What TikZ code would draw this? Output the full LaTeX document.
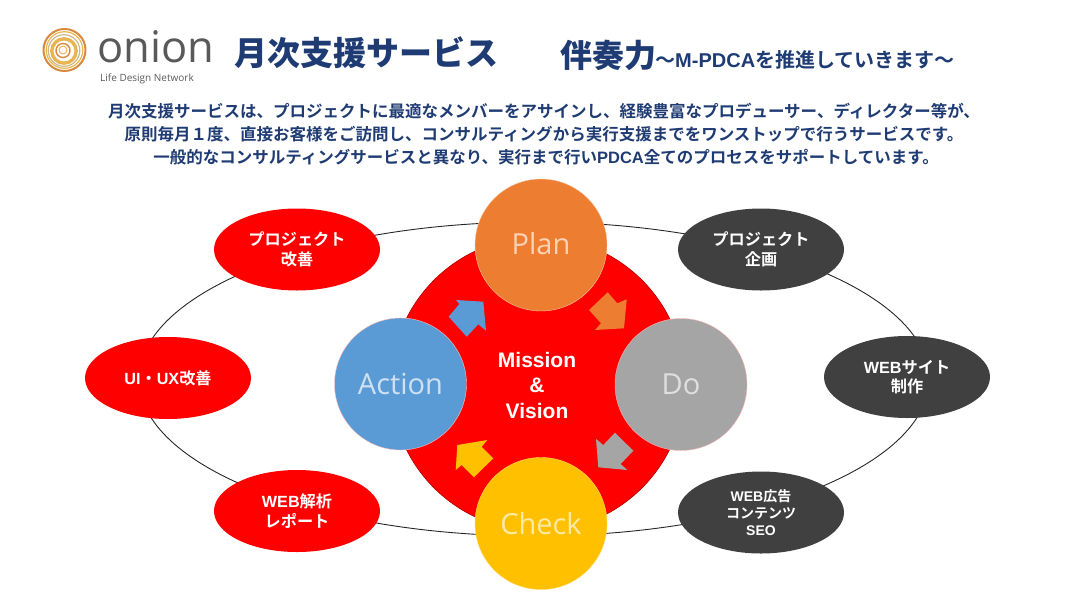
\documentclass[tikz,border=0pt]{standalone}
\usetikzlibrary{shapes.geometric}
\usepackage{fontspec}
\setmainfont{Liberation Sans}
\newfontfamily\cjk{Noto Sans CJK JP}[BoldFont={Noto Sans CJK JP Bold}]
\newfontfamily\cjkblack{Noto Sans CJK JP Black}
\newfontfamily\latinb{Liberation Sans}
\newfontfamily\light{Open Sans}
\newcommand{\lat}[1]{{\latinb\bfseries #1}}
\definecolor{navy}{HTML}{1F3B73}
\definecolor{redfill}{HTML}{FE0000}
\definecolor{darkfill}{HTML}{404040}
\definecolor{planc}{HTML}{ED7D31}
\definecolor{doc}{HTML}{A5A5A5}
\definecolor{checkc}{HTML}{FFC000}
\definecolor{actionc}{HTML}{5B9BD5}
\definecolor{logoa}{HTML}{D88A3E}
\definecolor{logob}{HTML}{E9B552}
\definecolor{logoc}{HTML}{C9B98A}
\tikzset{
  x=1pt,y=-1pt,
  pill/.style={ellipse,minimum width=166pt,minimum height=82pt,inner sep=0pt,text=white,align=center,font=\cjk\bfseries\fontsize{16.2}{19.5}\selectfont},
  redpill/.style={pill,fill=redfill},
  darkpill/.style={pill,fill=darkfill},
  pdca/.style={circle,minimum size=132pt,inner sep=0pt,font=\light\fontsize{29}{32}\selectfont},
  ringline/.style={draw=black!85,line width=0.9pt}
}
\begin{document}
\begin{tikzpicture}[line join=round]
\useasboundingbox (0,0) rectangle (1067,600);
% ring
\node[ellipse,ringline,minimum width=790pt,minimum height=314pt,inner sep=0pt] (ring) at (534,379) {};
% centre disc
\node[circle,fill=redfill,draw=red!70!black,line width=0.6pt,minimum size=294pt,inner sep=0pt] (core) at (538,384) {};
\node[align=center,text=white,font=\latinb\bfseries\fontsize{21}{25.5}\selectfont] (mv) at (537,385) {Mission\\\&\\Vision};
% PDCA circles
\node[pdca,fill=planc,draw=planc!45!white,text=planc!35!white] (plan) at (541,245) {\raisebox{3pt}{Plan}};
\node[pdca,fill=doc,draw=red!30!white,text=doc!35!white] (do) at (681,384.5) {Do};
\node[pdca,fill=checkc,draw=checkc!60!white,text=checkc!35!white] (check) at (541,523.5) {Check};
\node[pdca,fill=actionc,draw=red!25!white,text=actionc!30!white] (action) at (400.5,384) {Action};
% flow arrows
\fill[actionc] (456,300) -- (459.3,304) -- (448.7,316.7) -- (466.7,336.7) -- (478.3,324.3) -- (486,330.7) -- (483.3,301.7) -- cycle;
\fill[planc] (607.7,292.3) -- (617.3,303.3) -- (626.7,299.3) -- (624,328.3) -- (595,330) -- (601,323.3) -- (589,310) -- cycle;
\fill[doc] (596,439) -- (603.3,445) -- (615,432.7) -- (633.3,450.7) -- (620.7,464) -- (627.3,470) -- (598.3,467.3) -- cycle;
\fill[checkc] (487.3,440) -- (457.3,445) -- (455.7,470) -- (461.7,465) -- (474,477.3) -- (493.3,458.3) -- (481.7,446.7) -- cycle;
% satellite ellipses
\node[redpill] (p1) at (297,249.5) {\raisebox{-1pt}{プロジェクト}\\\raisebox{-1pt}{改善}};
\node[redpill] (p2) at (168,378) {\lat{UI}・\lat{UX}改善};
\node[redpill] (p3) at (297,511) {\raisebox{-1pt}{\lat{WEB}解析}\\\raisebox{-1pt}{レポート}};
\node[darkpill] (d1) at (761,249.5) {\raisebox{-1pt}{プロジェクト}\\\raisebox{-1pt}{企画}};
\node[darkpill] (d2) at (907,377) {\raisebox{-1pt}{\lat{WEB}サイト}\\\raisebox{-1pt}{制作}};
\node[darkpill,font=\cjk\bfseries\fontsize{14}{17}\selectfont] (d3) at (761,512.5) {\lat{WEB}広告\\コンテンツ\\\lat{SEO}};
% logo
\draw[draw=logoa,line width=2pt] (64.5,50) circle (21);
\draw[draw=logob,line width=1.2pt] (64.5,50) circle (18.3);
\draw[draw=logoc,line width=1.2pt] (64,50.5) circle (15.8);
\draw[draw=logob,line width=3.4pt] (64,51) circle (12.2);
\draw[draw=logoa,line width=1.4pt] (63,50.5) circle (7);
\draw[draw=logob,line width=1pt] (63,50) circle (4);
\node[text=black!65,font=\light\fontsize{43.5}{44}\selectfont,anchor=base west,inner sep=0pt] (onion) at (97,62) {onion};
\node[text=black!65,font=\light\fontsize{10}{10}\selectfont,anchor=base west,inner sep=0pt] (lifed) at (100,81) {Life Design Network};
% titles
\node[text=navy,font=\cjkblack\fontsize{33}{33}\selectfont,anchor=west,inner sep=0pt] (t1) at (234,53) {月次支援サービス};
\node[text=navy,font=\cjkblack\fontsize{32}{32}\selectfont,anchor=west,inner sep=0pt] (t2) at (560,55) {伴奏力};
\node[text=navy,font=\cjk\bfseries\fontsize{20}{20}\selectfont,anchor=west,inner sep=0pt] (t3) at (655,60) {〜\lat{M-PDCA}を推進していきます〜};
% lead text
\node[text=navy,font=\cjk\bfseries\fontsize{16.5}{23}\selectfont,align=center,inner sep=0pt] (lead) at (544,134) {月次支援サービスは、プロジェクトに最適なメンバーをアサインし、経験豊富なプロデューサー、ディレクター等が、\\原則毎月１度、直接お客様をご訪問し、コンサルティングから実行支援までをワンストップで行うサービスです。\\\hspace*{4pt}一般的なコンサルティングサービスと異なり、実行まで行い\lat{PDCA}全てのプロセスをサポートしています。};
\end{tikzpicture}
\end{document}
